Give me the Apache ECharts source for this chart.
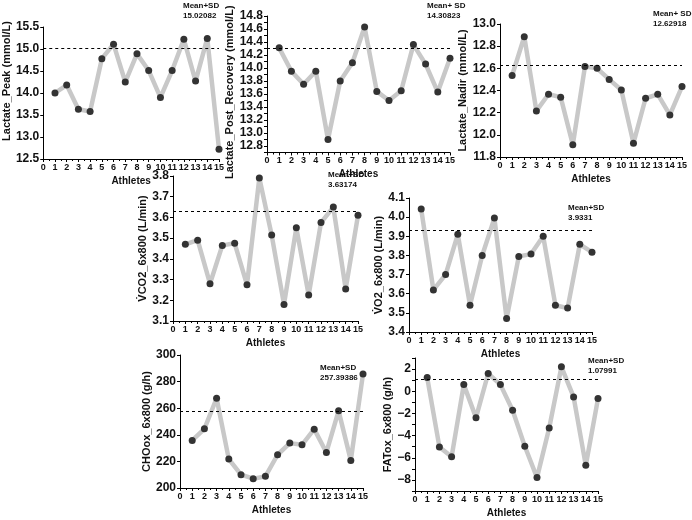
<!DOCTYPE html>
<html>
<head>
<meta charset="utf-8">
<script src="https://cdn.jsdelivr.net/npm/echarts@6/dist/echarts.min.js"></script>
<style>
html, body { margin: 0; padding: 0; background: #fff; }
#chart { width: 692px; height: 520px; }
</style>
</head>
<body>
<div id="chart"></div>
<script>
// data
const athletes = [1, 2, 3, 4, 5, 6, 7, 8, 9, 10, 11, 12, 13, 14, 15];
const lactatePeak = [14.0, 14.18, 13.63, 13.58, 14.78, 15.11, 14.25, 14.89, 14.51, 13.9, 14.51, 15.22, 14.27, 15.24, 12.72];
const lactatePost = [14.31, 13.95, 13.75, 13.95, 12.9, 13.8, 14.08, 14.63, 13.64, 13.5, 13.65, 14.36, 14.06, 13.63, 14.15];
const lactateNadir = [12.535, 12.886, 12.216, 12.366, 12.34, 11.91, 12.616, 12.6, 12.5, 12.405, 11.925, 12.33, 12.366, 12.18, 12.435];
const vco2 = [3.47, 3.49, 3.28, 3.465, 3.475, 3.275, 3.79, 3.515, 3.18, 3.55, 3.225, 3.575, 3.65, 3.255, 3.61];
const vo2 = [4.042, 3.62, 3.7, 3.91, 3.54, 3.8, 3.995, 3.47, 3.795, 3.807, 3.9, 3.54, 3.525, 3.858, 3.817];
const choOx = [235.75, 244.5, 267.5, 221.75, 210, 207, 208.75, 225, 233.75, 232.5, 244.25, 226.75, 258, 220.75, 285.75];
const fatOx = [1.23, -5.02, -5.92, 0.6, -2.38, 1.6, 0.6, -1.71, -4.96, -7.79, -3.31, 2.2, -0.51, -6.68, -0.66];
const meanPlusSD = [15.02082, 14.30823, 12.62918, 3.63174, 3.9331, 257.39386, 1.07991];
const yNames = ['Lactate_Peak (mmol/L)', 'Lactate_Post_Recovery (mmol/L)', 'Lactate_Nadir (mmol/L)',
  'V\u0307CO2_6x800 (L/min)', 'V\u0307O2_6x800 (L/min)', 'CHOox_6x800 (g/h)', 'FATox_6x800 (g/h)'];
const xName = 'Athletes';

const FONT = '"Liberation Sans", Arial, sans-serif';
const oneDec = v => v.toFixed(1);

const panels = [
  { data: lactatePeak, grid: [36, 27, 183, 132], min: 12.5, max: 15.5, interval: 0.5, fmt: oneDec, gap: 23, shift: 24, note: [183, 1], noteLabel: 'Mean+SD' },
  { data: lactatePost, grid: [267, 16, 183, 136.5], min: 12.7, max: 14.8, interval: 0.1,
    fmt: v => (Math.round(v * 10) % 2 === 0 ? v.toFixed(1) : ''), gap: 24, shift: -16, note: [427, 1], noteLabel: 'Mean+ SD' },
  { data: lactateNadir, grid: [500, 24, 182, 133], min: 11.8, max: 13.0, interval: 0.2, fmt: oneDec, gap: 22, shift: 0, note: [653, 9], noteLabel: 'Mean+ SD' },
  { data: vco2, grid: [173, 176, 185, 145], min: 3.1, max: 3.8, interval: 0.1, fmt: oneDec, gap: 19, shift: 0, note: [328, 170], noteLabel: 'Mean+SD' },
  { data: vo2, grid: [409, 198, 183, 134], min: 3.4, max: 4.1, interval: 0.1, fmt: oneDec, gap: 20, shift: 0, note: [568, 203], noteLabel: 'Mean+SD' },
  { data: choOx, grid: [180, 355, 183, 133], min: 200, max: 300, interval: 20, fmt: v => String(v), gap: 21, shift: 0, note: [320, 363], noteLabel: 'Mean+SD' },
  { data: fatOx, grid: [415, 358, 183, 133], min: -9, max: 3, interval: 1,
    fmt: v => (v % 2 === 0 ? (v < 0 ? '\u2212' + Math.abs(v) : String(v)) : ''), gap: 16, shift: 0, note: [588, 356], noteLabel: 'Mean+SD' }
];

const option = {
  animation: false,
  backgroundColor: '#fff',
  grid: [], xAxis: [], yAxis: [], series: [], graphic: []
};

panels.forEach((p, i) => {
  option.grid.push({ left: p.grid[0], top: p.grid[1], width: p.grid[2], height: p.grid[3] });
  option.xAxis.push({
    type: 'value', gridIndex: i, min: 0, max: 15, interval: 1,
    name: xName, nameLocation: 'middle', nameGap: 17,
    nameTextStyle: { fontFamily: FONT, fontWeight: 'bold', fontSize: 10, color: '#111' },
    axisLine: { onZero: false, lineStyle: { color: '#000', width: 1 } },
    axisTick: { length: 3, lineStyle: { color: '#000' } },
    minorTick: { show: true, splitNumber: 2, length: 2, lineStyle: { color: '#000' } },
    axisLabel: { margin: 4, fontFamily: FONT, fontWeight: 'bold', fontSize: 9, color: '#111' },
    splitLine: { show: false }
  });
  option.yAxis.push({
    type: 'value', gridIndex: i, min: p.min, max: p.max, interval: p.interval,
    name: yNames[i], nameLocation: 'middle', nameGap: p.gap,
    nameTextStyle: {
      fontFamily: FONT, fontWeight: 'bold', fontSize: 11, color: '#111',
      padding: p.shift > 0 ? [0, 0, 0, p.shift] : [0, -p.shift, 0, 0]
    },
    axisLine: { show: true, onZero: false, lineStyle: { color: '#000', width: 1 } },
    axisTick: { show: true, length: 3, lineStyle: { color: '#000' } },
    axisLabel: { margin: 4, fontFamily: FONT, fontWeight: 'bold', fontSize: 12, color: '#111', formatter: p.fmt },
    splitLine: { show: false }
  });
  option.series.push({
    type: 'line', xAxisIndex: i, yAxisIndex: i,
    data: athletes.map((a, k) => [a, p.data[k]]),
    symbol: 'circle', symbolSize: 7,
    itemStyle: { color: '#333' },
    lineStyle: { color: '#c8c8c8', width: 4.5 },
    markLine: {
      silent: true, symbol: 'none',
      lineStyle: { color: '#000', type: [3, 3], width: 1 },
      label: { show: false },
      data: [{ yAxis: meanPlusSD[i] }]
    }
  });
  option.graphic.push({
    type: 'text', left: p.note[0], top: p.note[1],
    style: {
      text: p.noteLabel + '\n' + String(meanPlusSD[i]),
      font: 'bold 8px ' + FONT, fill: '#111', lineHeight: 10
    }
  });
});

const chart = echarts.init(document.getElementById('chart'));
chart.setOption(option);
</script>
</body>
</html>
